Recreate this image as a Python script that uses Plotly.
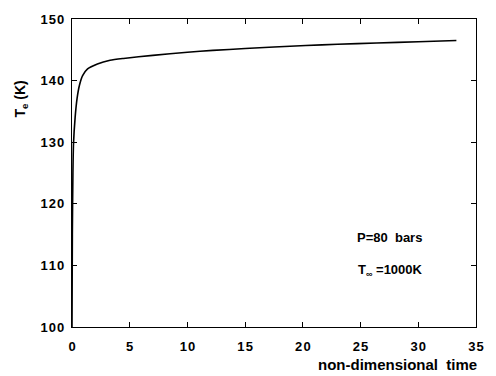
import plotly.graph_objects as go

time = [0.0, 0.03, 0.08, 0.13, 0.27, 0.44, 0.64, 0.92, 1.35, 2.2, 3.3, 4.46,
        7.0, 10.0, 12.2, 15.0, 17.5, 20.26, 23.0, 26.4, 30.0, 33.3]
temp = [100.0, 115.0, 125.0, 129.7, 134.0, 137.1, 139.2, 140.8, 141.9, 142.7, 143.3, 143.6,
        144.1, 144.6, 144.9, 145.2, 145.45, 145.7, 145.9, 146.1, 146.3, 146.5]

x_ticks = [0, 5, 10, 15, 20, 25, 30, 35]
y_ticks = [100, 110, 120, 130, 140, 150]

FAM = "Liberation Sans, Arial, sans-serif"
HS = "\u200a"


def spaced(v):
    return "<b>" + HS.join(str(v)) + "</b>"


fig = go.Figure()
fig.add_trace(go.Scatter(x=time, y=temp, mode="lines",
                         line=dict(color="black", width=1.6, shape="spline", smoothing=0.6),
                         showlegend=False, hoverinfo="skip"))

axis_common = dict(showgrid=False, zeroline=False, showline=True, linecolor="black",
                   linewidth=1.2, mirror="ticks", ticks="inside", ticklen=5,
                   tickcolor="black", tickwidth=1.2,
                   tickfont=dict(family=FAM, size=13, color="black"))

fig.update_xaxes(range=[0, 35], tickvals=x_ticks,
                 ticktext=[spaced(v) for v in x_ticks], ticklabelstandoff=7, **axis_common)
fig.update_yaxes(range=[100, 150], tickvals=y_ticks,
                 ticktext=[spaced(v) for v in y_ticks], ticklabelstandoff=4, **axis_common)

fig.add_annotation(text="<b>non-dimensional  time</b>", xref="paper", yref="paper",
                   x=1.008, y=-0.088, xanchor="right", yanchor="top", showarrow=False,
                   font=dict(family=FAM, size=15, color="black"))
fig.add_annotation(text="<b>T<sub>e</sub> (K)</b>", xref="paper", yref="paper",
                   x=-0.125, y=0.74, xanchor="center", yanchor="middle", showarrow=False,
                   textangle=-90, font=dict(family=FAM, size=14, color="black"))
fig.add_annotation(text="<b>P=80  bars</b>", xref="x", yref="y",
                   x=27.5, y=114.6, xanchor="center", yanchor="middle", showarrow=False,
                   font=dict(family=FAM, size=13, color="black"))
fig.add_annotation(text="<b>T<sub>∞</sub> =1000K</b>", xref="x", yref="y",
                   x=24.6, y=109.2, xanchor="left", yanchor="middle", showarrow=False,
                   font=dict(family=FAM, size=13, color="black"))

fig.update_layout(width=496, height=376,
                  margin=dict(l=72, r=12, t=12, b=49),
                  plot_bgcolor="white", paper_bgcolor="white")

fig.write_html("out.html")
